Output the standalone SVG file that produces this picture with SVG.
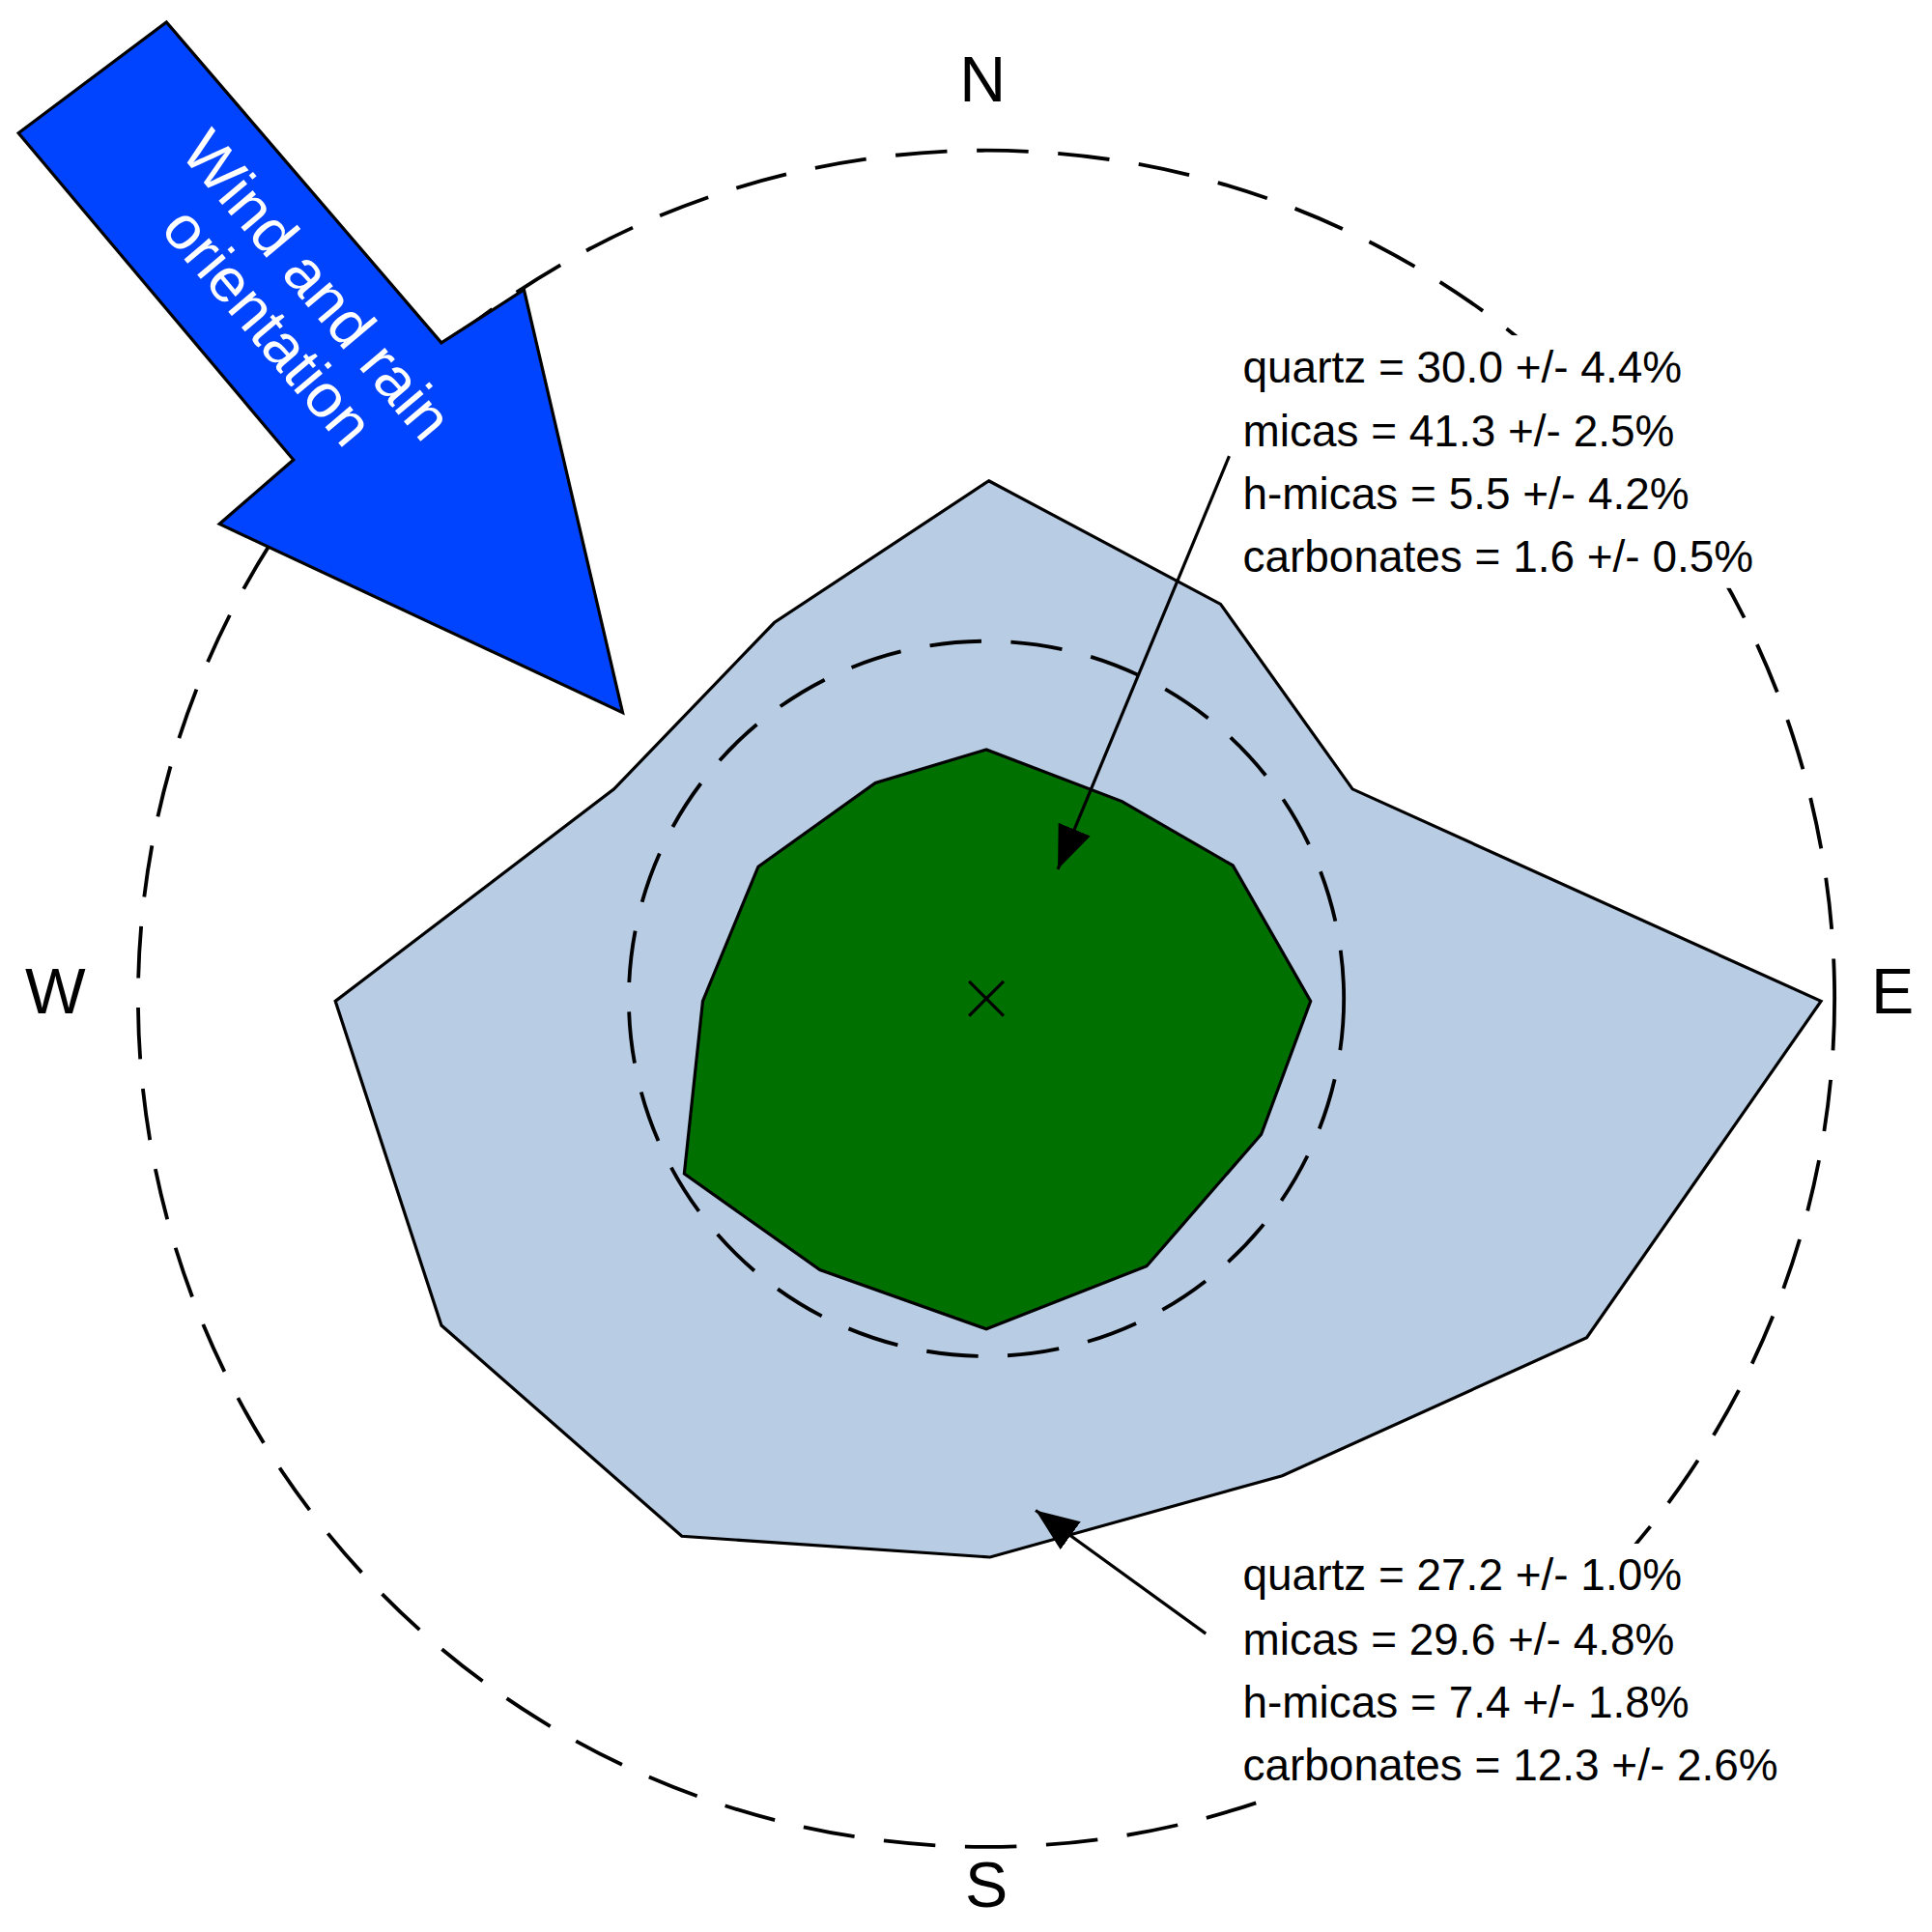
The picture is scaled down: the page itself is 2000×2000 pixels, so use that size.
<svg xmlns="http://www.w3.org/2000/svg" width="2000" height="2000" viewBox="0 0 2000 2000">
<style>
.lbl{font-family:"Liberation Sans",Arial,sans-serif;font-size:36px;fill:#000}
.dir{font-family:"Liberation Sans",Arial,sans-serif;font-size:52px;fill:#000;text-anchor:middle}
.dash{fill:none;stroke:#000;stroke-width:3;stroke-dasharray:42 24}
</style>
<defs><marker id="ah" viewBox="0 0 10 10" refX="10" refY="5" markerWidth="12" markerHeight="12" markerUnits="userSpaceOnUse" orient="auto"><path d="M0,0 L10,5 L0,10 z" fill="#000"/></marker>
<marker id="ah2" viewBox="0 0 10 10" refX="10" refY="5" markerWidth="14" markerHeight="14" orient="auto"><path d="M0,1 L10,5 L0,9 z" fill="#000"/></marker></defs>
<rect width="2000" height="2000" fill="#fff"/>
<g transform="scale(1.2763)">
<g id="outer-circle"><circle class="dash" cx="800" cy="810" r="688"/></g>
<g id="outer-zone"><polygon points="802,390 990,490 1097,640 1477,812 1287,1085 1040,1197 803,1263 553,1246 358,1075 272,812 498,640 628,505" fill="#b8cce4" stroke="#000" stroke-width="2.5"/></g>
<g id="inner-zone"><polygon points="800,608 710,635 615,703 570,812 555,952 665,1030 800,1078 930,1027 1023,920 1063,812 1000,702 910,650" fill="#007000" stroke="#000" stroke-width="2.5"/></g>
<g id="inner-circle"><circle class="dash" cx="800" cy="810" r="290"/></g>
<g id="center"><path d="M786,796 L814,824 M814,796 L786,824" stroke="#000" stroke-width="2.5"/></g>
<g id="wind-arrow"><polygon points="15,108 135,18 358,278 425,235 505,578 178,425 238,373" fill="#0044ff" stroke="#000" stroke-width="2.5"/>
<g transform="translate(235,250) rotate(50)" font-family="Liberation Sans,Arial,sans-serif" font-size="50" fill="#fff" text-anchor="middle"><text x="0" y="-12">Wind and rain</text><text x="0" y="40">orientation</text></g></g>
<g id="label-top"><rect x="1000" y="272" width="520" height="205" fill="#fff"/>
<text class="lbl" x="1008" y="310">quartz = 30.0 +/- 4.4%</text><text class="lbl" x="1008" y="362">micas = 41.3 +/- 2.5%</text><text class="lbl" x="1008" y="413">h-micas = 5.5 +/- 4.2%</text><text class="lbl" x="1008" y="464">carbonates = 1.6 +/- 0.5%</text></g>
<g id="label-bottom"><rect x="1000" y="1252" width="545" height="205" fill="#fff"/>
<text class="lbl" x="1008" y="1290">quartz = 27.2 +/- 1.0%</text><text class="lbl" x="1008" y="1342">micas = 29.6 +/- 4.8%</text><text class="lbl" x="1008" y="1393">h-micas = 7.4 +/- 1.8%</text><text class="lbl" x="1008" y="1444">carbonates = 12.3 +/- 2.6%</text></g>
<g id="connectors" stroke="#000" stroke-width="2.5" fill="none">
<line x1="997" y1="370" x2="858" y2="705" marker-end="url(#ah2)"/>
<line x1="978" y1="1325" x2="840" y2="1225" marker-end="url(#ah2)"/></g>
<g id="compass"><text class="dir" x="797" y="82">N</text><text class="dir" x="45" y="822">W</text><text class="dir" x="1535" y="822">E</text><text class="dir" x="800" y="1547">S</text></g>
</g>
</svg>
